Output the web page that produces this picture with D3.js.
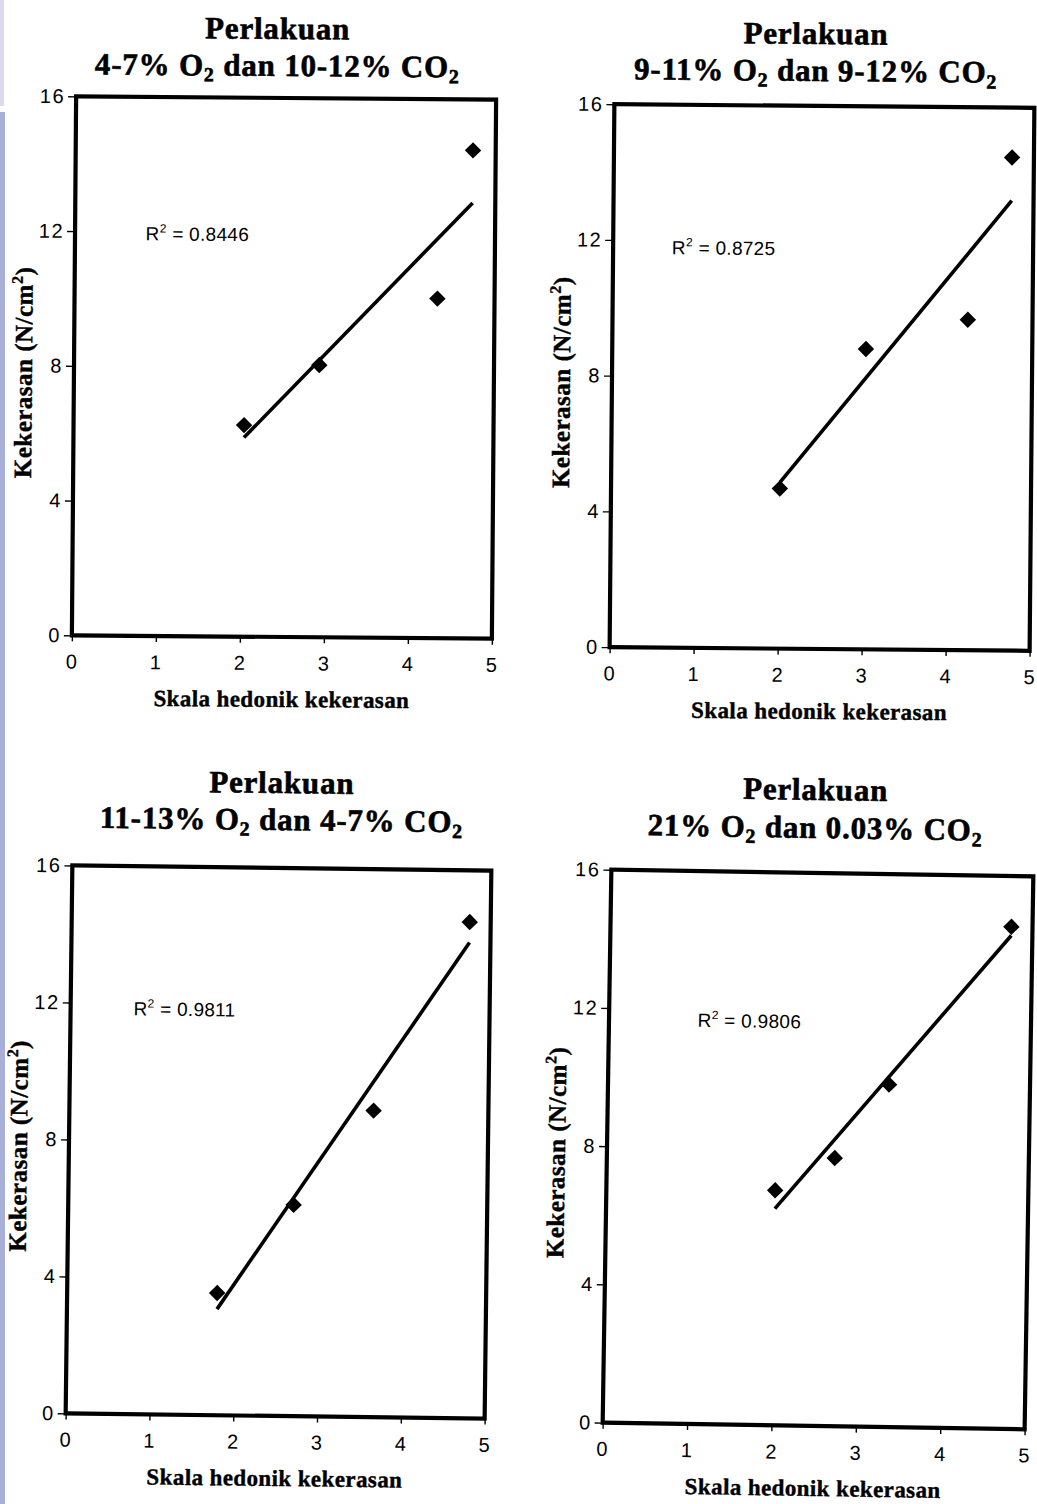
<!DOCTYPE html>
<html>
<head>
<meta charset="utf-8">
<script src="https://cdn.jsdelivr.net/npm/d3@7"></script>
<style>
  html, body { margin: 0; padding: 0; background: #ffffff; }
  svg { display: block; }
</style>
</head>
<body>
<svg id="fig" width="1037" height="1504"></svg>
<script>
// Treatment atmospheres shown in each panel title
const o2Levels = ["4-7%", "9-11%", "11-13%", "21%"];
const co2Levels = ["10-12%", "9-12%", "4-7%", "0.03%"];

// Hedonic firmness score (x) against measured firmness in N/cm² (y)
const hedonicA = [2.03, 2.92, 4.32, 4.73];
const firmnessA = [6.28, 8.08, 10.08, 14.49];
const hedonicB = [2.01, 3.02, 4.23, 4.74];
const firmnessB = [4.72, 8.85, 9.74, 14.53];
const hedonicC = [1.79, 2.69, 3.63, 4.75];
const firmnessC = [3.57, 6.17, 8.95, 14.49];
const hedonicD = [2.00, 2.70, 3.33, 4.75];
const firmnessD = [6.80, 7.76, 9.91, 14.53];

// Coefficient of determination of each linear fit
const rSquared = ["0.8446", "0.8725", "0.9811", "0.9806"];

const xTicks = [0, 1, 2, 3, 4, 5];
const yTicks = [0, 4, 8, 12, 16];

const titleWord = "Perlakuan";
const xTitle = "Skala hedonik kekerasan";

// Page placement of the four panels (pixels), title baselines and R² label anchor (data units)
const frames = [
  { left: 74,  right: 494,  top: 98,  bottom: 637,  tilt: 0.45, t1: 39,  t2: 76,  dx: -9, lx: 0.84, ly: 11.95 },
  { left: 612, right: 1032, top: 106, bottom: 649,  tilt: 0.5,  t1: 44,  t2: 81,  dx: -9, lx: 0.70, ly: 11.8 },
  { left: 69,  right: 488,  top: 868, bottom: 1416, tilt: 0.7,  t1: 793, t2: 830, dx: -1, lx: 0.75, ly: 11.85 },
  { left: 607, right: 1029, top: 873, bottom: 1426, tilt: 0.9,  t1: 800, t2: 838, dx: -8, lx: 1.05, ly: 11.7 }
];

const series = [
  { x: hedonicA, y: firmnessA },
  { x: hedonicB, y: firmnessB },
  { x: hedonicC, y: firmnessC },
  { x: hedonicD, y: firmnessD }
];

const svg = d3.select("#fig");
const serif = "'Liberation Serif', 'Times New Roman', serif";
const sans = "'Liberation Sans', Arial, sans-serif";

// Faint binding strip along the left edge of the page
svg.append("rect").attr("x", 0).attr("y", 0).attr("width", 4).attr("height", 106).attr("fill", "#dcd8ee");
svg.append("rect").attr("x", 0).attr("y", 112).attr("width", 5).attr("height", 1392).attr("fill", "#a9b0d8");

// Ordinary least-squares line through a set of points
function linearFit(xs, ys) {
  const mx = d3.mean(xs), my = d3.mean(ys);
  const sxy = d3.sum(xs, (v, i) => (v - mx) * (ys[i] - my));
  const sxx = d3.sum(xs, v => (v - mx) * (v - mx));
  const slope = sxy / sxx;
  return { slope, intercept: my - slope * mx };
}

const diamond = d3.symbol().type(d3.symbolSquare).size(135);

// Heavy serif text used for titles
function heavy(sel, size) {
  return sel.attr("font-family", serif)
    .attr("font-weight", "bold")
    .attr("font-size", size)
    .attr("fill", "#000")
    .attr("stroke", "#000")
    .attr("stroke-width", 0.6);
}

frames.forEach((f, i) => {
  const cx = (f.left + f.right) / 2;
  const cy = (f.top + f.bottom) / 2;
  const g = svg.append("g").attr("transform", `rotate(${f.tilt},${cx},${cy})`);

  const x = d3.scaleLinear().domain([0, 5]).range([f.left, f.right]);
  const y = d3.scaleLinear().domain([0, 16]).range([f.bottom, f.top]);

  // Title: treatment name and gas composition
  heavy(g.append("text"), 31)
    .attr("x", cx + f.dx).attr("y", f.t1)
    .attr("text-anchor", "middle")
    .attr("letter-spacing", 0.8)
    .text(titleWord);
  const line2 = heavy(g.append("text"), 31)
    .attr("x", cx + f.dx).attr("y", f.t2)
    .attr("text-anchor", "middle")
    .attr("letter-spacing", 0.8);
  line2.append("tspan").text(`${o2Levels[i]} O`);
  line2.append("tspan").attr("font-size", 20).attr("dy", 6).text("2");
  line2.append("tspan").attr("dy", -6).text(` dan ${co2Levels[i]} CO`);
  line2.append("tspan").attr("font-size", 20).attr("dy", 6).text("2");

  // Axes with outward ticks
  const yAxis = g.append("g")
    .attr("transform", `translate(${f.left},0)`)
    .call(d3.axisLeft(y).tickValues(yTicks).tickSize(8).tickPadding(3).tickFormat(d3.format("d")));
  const xAxis = g.append("g")
    .attr("transform", `translate(0,${f.bottom})`)
    .call(d3.axisBottom(x).tickValues(xTicks).tickSize(6).tickPadding(13).tickFormat(d3.format("d")));
  [xAxis, yAxis].forEach(a => {
    a.select(".domain").remove();
    a.selectAll(".tick line").attr("stroke", "#000").attr("stroke-width", 1.4);
    a.selectAll(".tick text")
      .attr("font-family", sans)
      .attr("font-size", 20)
      .attr("letter-spacing", 1.5)
      .attr("fill", "#000");
  });

  // Plot-area border
  g.append("rect")
    .attr("x", f.left).attr("y", f.top)
    .attr("width", f.right - f.left).attr("height", f.bottom - f.top)
    .attr("fill", "none").attr("stroke", "#000").attr("stroke-width", 4.2);

  // Axis titles
  heavy(g.append("text"), 23)
    .attr("x", cx).attr("y", f.bottom + 70)
    .attr("text-anchor", "middle")
    .attr("letter-spacing", 0.4)
    .attr("stroke-width", 0.4)
    .text(xTitle);

  const yt = heavy(g.append("text"), 25)
    .attr("transform", `translate(${f.left - 42},${cy + 7}) rotate(-90)`)
    .attr("text-anchor", "middle")
    .attr("letter-spacing", 0.5)
    .attr("stroke-width", 0.4);
  yt.append("tspan").text("Kekerasan (N/cm");
  yt.append("tspan").attr("font-size", 16).attr("dy", -10).text("2");
  yt.append("tspan").attr("dy", 10).text(")");

  // Linear trend line over the observed score range
  const s = series[i];
  const fit = linearFit(s.x, s.y);
  const xr = d3.extent(s.x);
  g.append("line")
    .attr("x1", x(xr[0])).attr("y1", y(fit.intercept + fit.slope * xr[0]))
    .attr("x2", x(xr[1])).attr("y2", y(fit.intercept + fit.slope * xr[1]))
    .attr("stroke", "#000").attr("stroke-width", 3.6);

  // Observations as black diamonds
  g.selectAll("path.pt")
    .data(s.x.map((v, k) => [v, s.y[k]]))
    .join("path")
    .attr("class", "pt")
    .attr("d", diamond)
    .attr("transform", d => `translate(${x(d[0])},${y(d[1])}) rotate(45)`)
    .attr("fill", "#000");

  // R² annotation
  const r = g.append("text")
    .attr("x", x(f.lx)).attr("y", y(f.ly) + 7)
    .attr("font-family", sans).attr("font-size", 19)
    .attr("letter-spacing", 0.3)
    .attr("fill", "#000");
  r.append("tspan").text("R");
  r.append("tspan").attr("font-size", 12).attr("dy", -8).text("2");
  r.append("tspan").attr("dy", 8).text(` = ${rSquared[i]}`);
});
</script>
</body>
</html>
